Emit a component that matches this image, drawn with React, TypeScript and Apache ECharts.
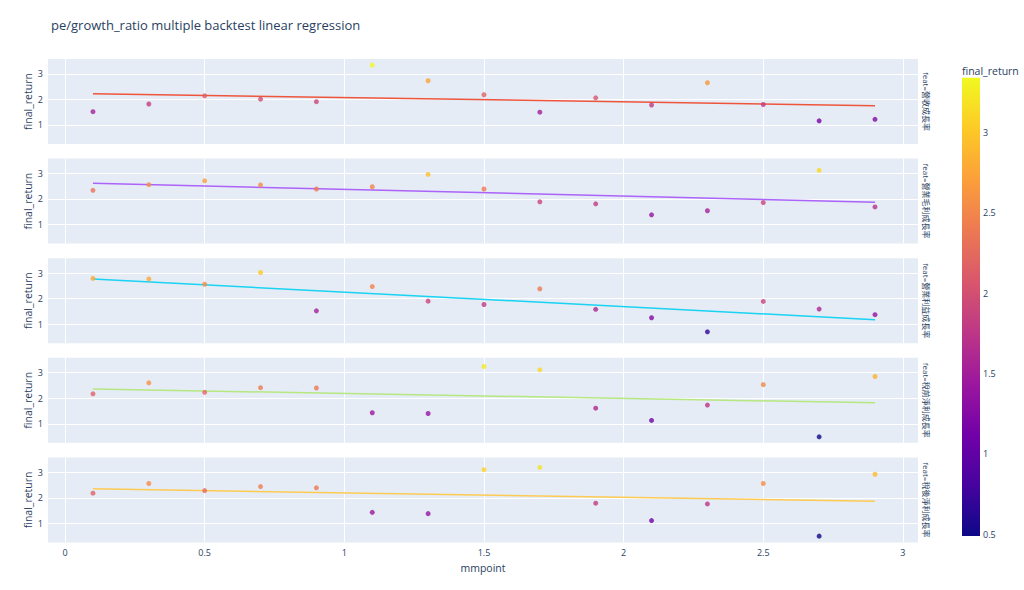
import React, { useEffect, useRef } from "react";
import * as echarts from "echarts";

const TITLE = "pe/growth_ratio multiple backtest linear regression";
const X_NAME = "mmpoint";
const Y_NAME = "final_return";
const COLOR_TITLE = "final_return";

const mmpoint = [0.1, 0.3, 0.5, 0.7, 0.9, 1.1, 1.3, 1.5, 1.7, 1.9, 2.1, 2.3, 2.5, 2.7, 2.9];
const feats = [
  "feat=營收成長率",
  "feat=營業毛利成長率",
  "feat=營業利益成長率",
  "feat=稅前淨利成長率",
  "feat=稅後淨利成長率",
];
const ret1 = [1.52, 1.82, 2.14, 2.01, 1.91, 3.34, 2.73, 2.18, 1.5, 2.06, 1.78, 2.65, 1.8, 1.16, 1.22];
const ret2 = [2.34, 2.56, 2.71, 2.55, 2.39, 2.48, 2.96, 2.39, 1.89, 1.81, 1.38, 1.54, 1.86, 3.12, 1.69];
const ret3 = [2.79, 2.77, 2.56, 3.02, 1.52, 2.47, 1.9, 1.77, 2.38, 1.58, 1.25, 0.7, 1.89, 1.59, 1.37];
const ret4 = [2.17, 2.6, 2.23, 2.41, 2.4, 1.43, 1.4, 3.24, 3.11, 1.61, 1.13, 1.73, 2.53, 0.49, 2.85];
const ret5 = [2.18, 2.56, 2.28, 2.44, 2.39, 1.43, 1.38, 3.1, 3.19, 1.79, 1.11, 1.76, 2.56, 0.5, 2.92];
const returns = [ret1, ret2, ret3, ret4, ret5];
const lineColors = ["#EF553B", "#ab63fa", "#19d3f3", "#B6E880", "#FECB52"];
const xTicks = [0, 0.5, 1, 1.5, 2, 2.5, 3];
const yTicks = [1, 2, 3];
const cbTicks = [0.5, 1, 1.5, 2, 2.5, 3];
const plasma = ["#0d0887", "#46039f", "#7201a8", "#9c179e", "#bd3786", "#d8576b", "#ed7953", "#fb9f3a", "#fdca26", "#f0f921"];
const COLOR_MIN = 0.49;
const COLOR_MAX = 3.34;

const FONT = '"Open Sans", verdana, arial, sans-serif';
const TXT = "#2a3f5f";

function ols(xs: number[], ys: number[]) {
  const n = xs.length;
  const mx = xs.reduce((a, b) => a + b, 0) / n;
  const my = ys.reduce((a, b) => a + b, 0) / n;
  let sxy = 0, sxx = 0;
  for (let i = 0; i < n; i++) {
    sxy += (xs[i] - mx) * (ys[i] - my);
    sxx += (xs[i] - mx) * (xs[i] - mx);
  }
  const b = sxy / sxx;
  const a = my - b * mx;
  return xs.map((x) => [x, a + b * x]);
}

export default function App() {
  const ref = useRef<HTMLDivElement>(null);
  useEffect(() => {
    if (!ref.current) return;
    const chart = echarts.init(ref.current, null, { renderer: "svg" });
    const left = 48, right = 106, top0 = 59, step = 99.6, h = 85;
    const grids: any[] = [], xAxes: any[] = [], yAxes: any[] = [], series: any[] = [], graphics: any[] = [];
    returns.forEach((ys, i) => {
      const top = top0 + i * step;
      grids.push({ left, right, top, height: h, show: true, backgroundColor: "#E5ECF6", borderWidth: 0 });
      const last = i === returns.length - 1;
      xAxes.push({
        gridIndex: i, type: "value", min: -0.061, max: 3.054,
        name: last ? X_NAME : "", nameLocation: "middle", nameGap: 20, nameMoveOverlap: false,
        nameTextStyle: { color: TXT, fontSize: 10.5, fontFamily: FONT },
        axisLine: { show: false },
        axisTick: { show: false, customValues: xTicks },
        axisLabel: { show: last, customValues: xTicks, color: TXT, fontSize: 9, fontFamily: FONT, margin: 6 },
        splitLine: { show: true, lineStyle: { color: "#ffffff", width: 1 } },
      });
      yAxes.push({
        gridIndex: i, type: "value", min: 0.255, max: 3.58,
        name: Y_NAME, nameLocation: "middle", nameGap: 15, nameRotate: 90, nameMoveOverlap: false,
        nameTextStyle: { color: TXT, fontSize: 10.5, fontFamily: FONT },
        axisLine: { show: false },
        axisTick: { show: false, customValues: yTicks },
        axisLabel: { customValues: yTicks, color: TXT, fontSize: 9, fontFamily: FONT, margin: 5 },
        splitLine: { show: true, lineStyle: { color: "#ffffff", width: 1 } },
      });
      series.push({
        type: "scatter", xAxisIndex: i, yAxisIndex: i, symbolSize: 5,
        data: mmpoint.map((x, k) => [x, ys[k]]), z: 3,
      });
      const fit = ols(mmpoint, ys);
      series.push({
        type: "line", xAxisIndex: i, yAxisIndex: i, symbol: "none",
        data: [fit[0], fit[fit.length - 1]],
        lineStyle: { color: lineColors[i], width: 1.5 }, z: 2,
      });
      graphics.push({
        type: "text", x: 926, y: top + h / 2, rotation: -Math.PI / 2,
        style: { text: feats[i], fill: TXT, fontSize: 8, fontFamily: FONT + ', "Noto Sans CJK TC"', align: "center", verticalAlign: "middle" },
      });
    });
    // colorbar
    const cbTop = 77.7, cbH = 458.3, cbLeft = 962, cbW = 18;
    grids.push({ left: cbLeft, width: cbW, top: cbTop, height: cbH, show: false });
    xAxes.push({ gridIndex: 5, type: "value", show: false, min: 0, max: 1 });
    yAxes.push({
      gridIndex: 5, type: "value", position: "right", min: COLOR_MIN, max: COLOR_MAX,
      axisLine: { show: false }, splitLine: { show: false },
      axisTick: { show: false, customValues: cbTicks },
      axisLabel: { customValues: cbTicks, color: TXT, fontSize: 9, fontFamily: FONT, margin: 3 },
    });
    graphics.push({
      type: "rect", shape: { x: cbLeft, y: cbTop, width: cbW, height: cbH }, z: 1,
      style: {
        fill: new echarts.graphic.LinearGradient(0, 1, 0, 0, plasma.map((c, k) => ({ offset: k / (plasma.length - 1), color: c }))),
      },
    });
    graphics.push({
      type: "text", x: cbLeft, y: 70.5,
      style: { text: COLOR_TITLE, fill: TXT, fontSize: 10.5, fontFamily: FONT, align: "left", verticalAlign: "middle" },
    });
    chart.setOption({
      animation: false,
      backgroundColor: "#ffffff",
      title: { text: TITLE, left: 46, top: 13, textStyle: { color: TXT, fontSize: 13, fontWeight: "normal", fontFamily: FONT } },
      grid: grids,
      xAxis: xAxes,
      yAxis: yAxes,
      visualMap: {
        type: "continuous", show: false, min: COLOR_MIN, max: COLOR_MAX, dimension: 1,
        seriesIndex: [0, 2, 4, 6, 8], inRange: { color: plasma },
      },
      series,
      graphic: graphics,
    });
    return () => chart.dispose();
  }, []);
  return <div ref={ref} style={{ position: "fixed", left: 0, top: 0, width: 1024, height: 590 }} />;
}
